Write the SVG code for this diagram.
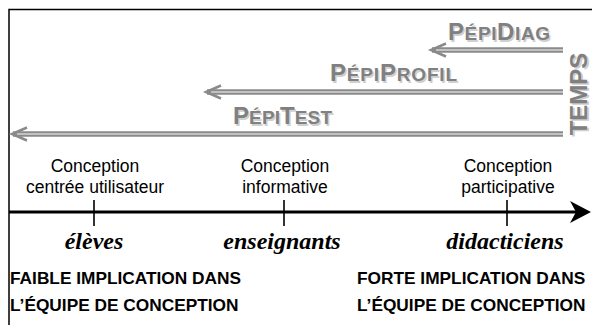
<svg xmlns="http://www.w3.org/2000/svg" width="592" height="325" viewBox="0 0 592 325">
<defs>
<style>
.frame{fill:none;stroke:#000;stroke-width:1.5}
.gline{stroke:#8a8a8a;stroke-width:5.5;fill:none}
.gmid{stroke:#d4d4d4;stroke-width:1.3;fill:none}
.ghead{stroke:#8a8a8a;stroke-width:2.5;fill:none;stroke-linejoin:miter}
.gt{font-family:"Liberation Sans",Arial,sans-serif;font-weight:bold;fill:#808080}
.gs{font-family:"Liberation Sans",Arial,sans-serif;font-weight:bold;fill:#d0d0d0}
.conc{font-family:"Liberation Sans",Arial,sans-serif;font-size:17.5px;fill:#000;text-anchor:middle}
.role{font-family:"Liberation Serif","Times New Roman",serif;font-size:24px;font-weight:bold;font-style:italic;fill:#000;text-anchor:middle}
.impl{font-family:"Liberation Sans",Arial,sans-serif;font-size:17.3px;font-weight:bold;fill:#000}
.tick{stroke:#000;stroke-width:1.6}
</style>
</defs>
<path class="frame" d="M9,325 V9.5 H592"/>
<g id="connectors">
  <g id="arrow-diag">
    <line class="gline" x1="432" y1="50" x2="563" y2="50"/>
    <line class="gmid" x1="436" y1="50" x2="563" y2="50"/>
    <path class="ghead" d="M446,43.5 L431,50 L446,56.5"/>
  </g>
  <g id="arrow-profil">
    <line class="gline" x1="207" y1="92" x2="563" y2="92"/>
    <line class="gmid" x1="211" y1="92" x2="563" y2="92"/>
    <path class="ghead" d="M221,85.5 L206,92 L221,98.5"/>
  </g>
  <g id="arrow-test">
    <line class="gline" x1="13" y1="134" x2="563" y2="134"/>
    <line class="gmid" x1="17" y1="134" x2="563" y2="134"/>
    <path class="ghead" d="M27,127.5 L12,134 L27,140.5"/>
  </g>
  <g id="timeline">
    <line x1="9" y1="212" x2="578" y2="212" stroke="#000" stroke-width="3"/>
    <path d="M591,212 L570,201 L576,212 L570,223 Z" fill="#000"/>
    <line class="tick" x1="94" y1="200" x2="94" y2="226"/>
    <line class="tick" x1="284" y1="200" x2="284" y2="226"/>
    <line class="tick" x1="507" y1="200" x2="507" y2="226"/>
  </g>
</g>
<g id="pepidiag">
  <text class="gs" x="449.5" y="41.5" textLength="102" lengthAdjust="spacing"><tspan font-size="24">P</tspan><tspan font-size="19">ÉPI</tspan><tspan font-size="24">D</tspan><tspan font-size="19">IAG</tspan></text>
  <text class="gt" x="448" y="40" textLength="102" lengthAdjust="spacing"><tspan font-size="24">P</tspan><tspan font-size="19">ÉPI</tspan><tspan font-size="24">D</tspan><tspan font-size="19">IAG</tspan></text>
</g>
<g id="pepiprofil">
  <text class="gs" x="331.5" y="82.5" textLength="127" lengthAdjust="spacing"><tspan font-size="24">P</tspan><tspan font-size="19">ÉPI</tspan><tspan font-size="24">P</tspan><tspan font-size="19">ROFIL</tspan></text>
  <text class="gt" x="330" y="81" textLength="127" lengthAdjust="spacing"><tspan font-size="24">P</tspan><tspan font-size="19">ÉPI</tspan><tspan font-size="24">P</tspan><tspan font-size="19">ROFIL</tspan></text>
</g>
<g id="pepitest">
  <text class="gs" x="234.5" y="125.5" textLength="99" lengthAdjust="spacing"><tspan font-size="24">P</tspan><tspan font-size="19">ÉPI</tspan><tspan font-size="24">T</tspan><tspan font-size="19">EST</tspan></text>
  <text class="gt" x="233" y="124" textLength="99" lengthAdjust="spacing"><tspan font-size="24">P</tspan><tspan font-size="19">ÉPI</tspan><tspan font-size="24">T</tspan><tspan font-size="19">EST</tspan></text>
</g>
<g id="temps">
  <text class="gs" font-size="24" text-anchor="middle" transform="translate(588.5,95.5) rotate(-90)">TEMPS</text>
  <text class="gt" font-size="24" text-anchor="middle" transform="translate(587,94) rotate(-90)">TEMPS</text>
</g>
<g id="cc-utilisateur">
  <text class="conc" x="95" y="172">Conception</text>
  <text class="conc" x="95" y="193">centrée utilisateur</text>
</g>
<g id="c-informative">
  <text class="conc" x="285" y="172">Conception</text>
  <text class="conc" x="285" y="193">informative</text>
</g>
<g id="c-participative">
  <text class="conc" x="508" y="172">Conception</text>
  <text class="conc" x="508" y="193">participative</text>
</g>
<g id="eleves"><text class="role" x="94" y="249">élèves</text></g>
<g id="enseignants"><text class="role" x="282" y="249">enseignants</text></g>
<g id="didacticiens"><text class="role" x="505" y="249">didacticiens</text></g>
<g id="faible">
  <text class="impl" x="10" y="284">FAIBLE IMPLICATION DANS</text>
  <text class="impl" x="10" y="311">L’ÉQUIPE DE CONCEPTION</text>
</g>
<g id="forte">
  <text class="impl" x="357" y="284">FORTE IMPLICATION DANS</text>
  <text class="impl" x="357" y="311">L’ÉQUIPE DE CONCEPTION</text>
</g>
</svg>
